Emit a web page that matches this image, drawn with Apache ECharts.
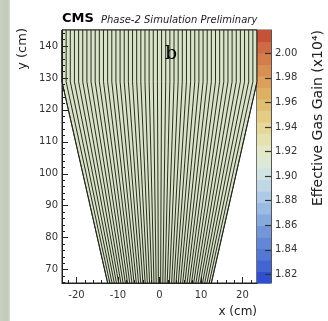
<!DOCTYPE html>
<html>
<head>
<meta charset="utf-8">
<script src="https://cdn.jsdelivr.net/npm/echarts@6/dist/echarts.min.js"></script>
<style>
html,body{margin:0;padding:0;background:#fff;}
#chart{width:328px;height:321px;}
</style>
</head>
<body>
<div id="chart"></div>
<script>
// chamber outline, cm
var outlineX = [-23.5, 23.5, 23.5, 12.5, -12.5, -23.5];
var outlineY = [145, 145, 128.8, 65.8, 65.8, 128.8];
var chamberTopY = 145, chamberBreakY = 128.8, chamberBottomY = 65.8;

// strip boundaries: x at the wide end and x at the narrow end
var stripTopX = [-23.5, -22.5, -21.5, -20.5, -19.5, -18.5, -17.5, -16.5, -15.5, -14.5, -13.5, -12.5,
  -11.5, -10.5, -9.5, -8.5, -7.5, -6.5, -5.5, -4.5, -3.5, -2.5, -1.5, -0.5,
  0.5, 1.5, 2.5, 3.5, 4.5, 5.5, 6.5, 7.5, 8.5, 9.5, 10.5, 11.5,
  12.5, 13.5, 14.5, 15.5, 16.5, 17.5, 18.5, 19.5, 20.5, 21.5, 22.5, 23.5];
var stripBottomX = [-12.50, -11.97, -11.44, -10.90, -10.37, -9.84, -9.31, -8.78, -8.24, -7.71, -7.18, -6.65,
  -6.12, -5.59, -5.05, -4.52, -3.99, -3.46, -2.93, -2.39, -1.86, -1.33, -0.80, -0.27,
  0.27, 0.80, 1.33, 1.86, 2.39, 2.93, 3.46, 3.99, 4.52, 5.05, 5.59, 6.12,
  6.65, 7.18, 7.71, 8.24, 8.78, 9.31, 9.84, 10.37, 10.90, 11.44, 11.97, 12.50];

var xMajor = [-20, -10, 0, 10, 20];
var xMinor = [-22, -18, -16, -14, -12, -8, -6, -4, -2, 2, 4, 6, 8, 12, 14, 16, 18, 22];
var yMajor = [70, 80, 90, 100, 110, 120, 130, 140];
var yMinor = [66, 68, 72, 74, 76, 78, 82, 84, 86, 88, 92, 94, 96, 98, 102, 104, 106, 108,
  112, 114, 116, 118, 122, 124, 126, 128, 132, 134, 136, 138, 142, 144];

// colour scale (x10^4)
var zTicks = [1.82, 1.84, 1.86, 1.88, 1.90, 1.92, 1.94, 1.96, 1.98, 2.00];
var bandEdges = [1.813, 1.8224, 1.8317, 1.8411, 1.8504, 1.8598, 1.8692, 1.8785, 1.8879, 1.8973,
  1.9066, 1.9160, 1.9254, 1.9347, 1.9441, 1.9535, 1.9628, 1.9722, 1.9815, 1.9909, 2.0003, 2.0096, 2.019];
var bandColors = ['#2f4fd0', '#4464d2', '#5577d4', '#6486d6', '#7597da', '#87a9de', '#9bbbe2', '#aecae6',
  '#c0d8e6', '#d0e2e2', '#dde8d6', '#e4e8c6', '#e6e2b0', '#e6d89a', '#e4cc86', '#e0be72',
  '#deb064', '#dca05c', '#d98f54', '#d47d4c', '#ce6a44', '#c4533a'];

var FONT = 'DejaVu Sans';
var chamberColor = '#d9e3c7';

var chart = echarts.init(document.getElementById('chart'));

chart.setOption({
  animation: false,
  grid: [
    {left: 62, top: 30, width: 195, height: 253, show: true, borderColor: '#222', borderWidth: 1, backgroundColor: 'transparent'},
    {left: 257, top: 30, width: 14, height: 253, show: true, borderColor: '#555', borderWidth: 1, backgroundColor: 'transparent'}
  ],
  xAxis: [
    {gridIndex: 0, type: 'value', min: -23.5, max: 23.5, position: 'bottom', z: 5,
      axisLine: {show: true, onZero: false, lineStyle: {color: '#222', width: 1}},
      axisTick: {show: true, inside: true, length: 6, customValues: xMajor, lineStyle: {color: '#222'}},
      axisLabel: {customValues: xMajor, fontFamily: FONT, fontSize: 10, color: '#333', margin: 7},
      splitLine: {show: false}},
    {gridIndex: 0, type: 'value', min: -23.5, max: 23.5, position: 'bottom', z: 5,
      axisLine: {show: false, onZero: false},
      axisTick: {show: true, inside: true, length: 3, customValues: xMinor, lineStyle: {color: '#222'}},
      axisLabel: {show: false}, splitLine: {show: false}},
    {gridIndex: 1, type: 'value', min: 0, max: 1, show: false}
  ],
  yAxis: [
    {gridIndex: 0, type: 'value', min: 65.8, max: 145, position: 'left', z: 5,
      axisLine: {show: true, onZero: false, lineStyle: {color: '#222', width: 1}},
      axisTick: {show: true, inside: true, length: 6, customValues: yMajor, lineStyle: {color: '#222'}},
      axisLabel: {customValues: yMajor, fontFamily: FONT, fontSize: 10, color: '#333', margin: 4},
      splitLine: {show: false}},
    {gridIndex: 0, type: 'value', min: 65.8, max: 145, position: 'left', z: 5,
      axisLine: {show: false, onZero: false},
      axisTick: {show: true, inside: true, length: 3, customValues: yMinor, lineStyle: {color: '#222'}},
      axisLabel: {show: false}, splitLine: {show: false}},
    {gridIndex: 1, type: 'value', min: 1.813, max: 2.019, position: 'right', z: 5,
      axisLine: {show: true, onZero: false, lineStyle: {color: '#555', width: 1}},
      axisTick: {show: true, inside: true, length: 6, customValues: zTicks, lineStyle: {color: '#333', width: 1.2}},
      axisLabel: {customValues: zTicks, fontFamily: FONT, fontSize: 10, color: '#333', margin: 4,
        formatter: function (v) { return v.toFixed(2); }},
      splitLine: {show: false}}
  ],
  series: [
    {
      type: 'custom', xAxisIndex: 0, yAxisIndex: 0, z: 1, silent: true,
      data: [[0, 0]],
      renderItem: function (params, api) {
        var pts = outlineX.map(function (x, i) { return api.coord([x, outlineY[i]]); });
        return {type: 'polygon', shape: {points: pts}, style: {fill: chamberColor, stroke: '#1c1c1c', lineWidth: 0.9}};
      }
    },
    {
      type: 'custom', xAxisIndex: 0, yAxisIndex: 0, z: 2, silent: true,
      data: stripTopX.map(function (x, i) { return [x, stripBottomX[i]]; }),
      renderItem: function (params, api) {
        var xt = api.value(0), xb = api.value(1);
        return {
          type: 'polyline',
          shape: {points: [api.coord([xt, chamberTopY]), api.coord([xt, chamberBreakY]), api.coord([xb, chamberBottomY])]},
          style: {stroke: '#20241a', lineWidth: 0.95, fill: null}
        };
      }
    },
    {
      type: 'custom', xAxisIndex: 2, yAxisIndex: 2, z: 1, silent: true,
      data: bandColors.map(function (c, i) { return [bandEdges[i], bandEdges[i + 1]]; }),
      renderItem: function (params, api) {
        var p0 = api.coord([0, api.value(1)]);
        var p1 = api.coord([1, api.value(0)]);
        return {type: 'rect', shape: {x: p0[0], y: p0[1], width: p1[0] - p0[0], height: p1[1] - p0[1] + 0.5},
          style: {fill: bandColors[params.dataIndex]}};
      }
    }
  ],
  graphic: [
    {type: 'rect', left: 0, top: 0, shape: {width: 10, height: 321}, z: 0,
      style: {fill: new echarts.graphic.LinearGradient(0, 0, 1, 0, [
        {offset: 0, color: '#c9d1c1'}, {offset: 0.7, color: '#c0cab8'}, {offset: 1, color: '#d4dace'}])}},
    {type: 'text', x: 62, y: 19, z: 10, style: {text: 'CMS', font: 'bold 13px "DejaVu Sans"', fill: '#000', verticalAlign: 'middle'}},
    {type: 'text', x: 101, y: 20, z: 10, style: {text: 'Phase-2 Simulation Preliminary', font: 'italic 10px "DejaVu Sans"', fill: '#222', verticalAlign: 'middle'}},
    {type: 'text', x: 171, y: 54, z: 10, style: {text: 'b', font: '19px "DejaVu Serif"', fill: '#000', align: 'center', verticalAlign: 'middle'}},
    {type: 'text', x: 23, y: 28, rotation: Math.PI / 2, z: 10, style: {text: 'y (cm)', font: '13px "DejaVu Sans"', fill: '#222', align: 'right', verticalAlign: 'middle'}},
    {type: 'text', x: 257, y: 312, z: 10, style: {text: 'x (cm)', font: '12px "DejaVu Sans"', fill: '#222', align: 'right', verticalAlign: 'middle'}},
    {type: 'text', x: 318, y: 30, rotation: Math.PI / 2, z: 10, style: {text: 'Effective Gas Gain (x10\u2074)', font: '14px "DejaVu Sans"', fill: '#222', align: 'right', verticalAlign: 'middle'}}
  ]
});
</script>
</body>
</html>
